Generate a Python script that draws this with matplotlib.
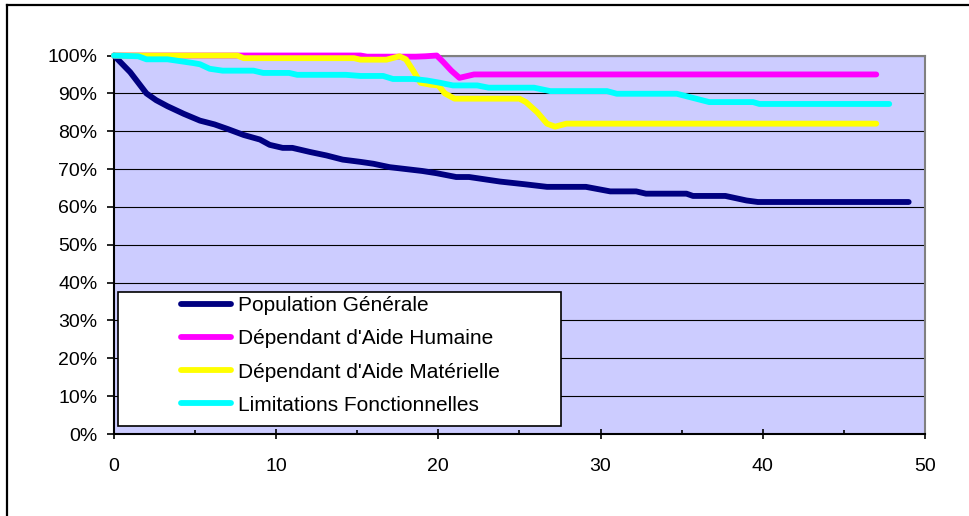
import matplotlib.pyplot as plt
from matplotlib.lines import Line2D
from matplotlib.patches import Rectangle
from matplotlib.ticker import MultipleLocator, PercentFormatter

plt.rcParams['font.family'] = ['Liberation Sans', 'DejaVu Sans']

# survival curves (x in years, y in %)
pop_x = [0, 1, 2, 2.6, 3.3, 4.3, 5.3, 6.2, 7.0, 8.0, 9.0, 9.6, 10.4, 11.0, 12.1, 13.1, 14.1,
         15.2, 16.0, 17.0, 18.0, 19.0, 19.9, 21.1, 21.9, 23.8, 25.3, 26.7, 29.1, 30.6, 32.2,
         32.8, 35.3, 35.7, 37.7, 39.0, 39.7, 49]
pop_y = [100, 95.6, 90, 88.2, 86.6, 84.6, 82.8, 81.8, 80.6, 79, 77.8, 76.4, 75.6, 75.6, 74.5,
         73.6, 72.5, 71.9, 71.4, 70.5, 70, 69.5, 68.9, 67.9, 67.9, 66.7, 66, 65.3, 65.3, 64.1,
         64.1, 63.5, 63.5, 62.9, 62.9, 61.7, 61.3, 61.3]

hum_x = [0, 15.2, 15.6, 18.6, 19.2, 19.9, 20.3, 20.8, 21.3, 21.8, 22.2, 47]
hum_y = [100, 100, 99.7, 99.7, 99.8, 100, 98.3, 96, 94.1, 94.6, 95, 95]

mat_x = [0, 7.6, 8.0, 14.8, 15.2, 16.8, 17.6, 18.0, 18.45, 18.9, 19.5, 20.0, 20.4, 21.0,
         25.0, 25.4, 26.1, 26.7, 27.2, 27.9, 47]
mat_y = [100, 100, 99.3, 99.3, 98.9, 98.9, 99.8, 99, 96, 92.8, 92.3, 92.1, 90, 88.6,
         88.6, 87.7, 85, 82, 81.2, 82, 82]

lim_x = [0, 1.5, 2.0, 3.3, 4.1, 4.9, 5.3, 5.9, 6.7, 8.6, 9.2, 10.8, 11.3, 14.3, 15.2, 16.6,
         17.2, 18.5, 19.3, 20.1, 20.9, 22.4, 23.1, 25.9, 26.9, 30.4, 31.0, 34.7, 36.7, 39.4,
         39.8, 47.8]
lim_y = [100, 99.8, 99.0, 99.0, 98.5, 98.0, 97.7, 96.5, 96.0, 96.0, 95.4, 95.4, 94.9, 94.9,
         94.6, 94.6, 93.8, 93.8, 93.4, 92.8, 92.1, 92.1, 91.5, 91.5, 90.6, 90.6, 89.9, 89.9,
         87.7, 87.7, 87.2, 87.2]

labels = ["Population Générale", "Dépendant d'Aide Humaine",
          "Dépendant d'Aide Matérielle", "Limitations Fonctionnelles"]
colors = ["#000080", "#FF00FF", "#FFFF00", "#00FFFF"]

fig = plt.figure(figsize=(9.7, 5.16), dpi=100)
ax = fig.add_axes([0.1175, 0.1589, 0.836, 0.7335])
ax.set_facecolor("#CCCCFF")

series = [(pop_x, pop_y), (hum_x, hum_y), (mat_x, mat_y), (lim_x, lim_y)]
handles = []
for (xs, ys), c, lab in zip(series, colors, labels):
    h, = ax.plot(xs, ys, color=c, lw=4.2, solid_capstyle='round', solid_joinstyle='round',
                 clip_on=False, label=lab, zorder=3)
    handles.append(h)

ax.set_xlim(0, 50)
ax.set_ylim(0, 100)
ax.xaxis.set_major_locator(MultipleLocator(10))
ax.xaxis.set_minor_locator(MultipleLocator(5))
ax.yaxis.set_major_locator(MultipleLocator(10))
ax.yaxis.set_major_formatter(PercentFormatter(xmax=100, decimals=0))
ax.yaxis.grid(True, color="black", lw=0.8, zorder=1)
ax.set_axisbelow(True)

ax.tick_params(axis='x', which='major', direction='inout', length=6.5, width=1.2,
               labelsize=14, pad=14)
ax.tick_params(axis='x', which='minor', direction='in', length=3, width=1.2)
ax.tick_params(axis='y', which='major', direction='out', length=5, width=1.2,
               labelsize=14, pad=7)

for s in ['left', 'bottom']:
    ax.spines[s].set_color("black")
    ax.spines[s].set_linewidth(1.5)
for s in ['top', 'right']:
    ax.spines[s].set_color("#808080")
    ax.spines[s].set_linewidth(1.5)

# legend box drawn in axes coords, entries placed inside it
ax.add_patch(Rectangle((0.005, 0.021), 0.546, 0.354, transform=ax.transAxes,
                       facecolor="white", edgecolor="black", lw=1.2, zorder=5))
leg = ax.legend(handles=handles, loc='upper left', bbox_to_anchor=(0.083, 0.364),
                frameon=False, fontsize=15, handlelength=2.4, handletextpad=0.3,
                labelspacing=0.68, borderpad=0, borderaxespad=0)
leg.set_zorder(6)

# outer frame (only top and left edges visible in the reference)
fig.add_artist(Line2D([0.0072, 0.0072], [0, 0.9903], color="black", lw=1.6,
                      transform=fig.transFigure))
fig.add_artist(Line2D([0.0072, 1], [0.9903, 0.9903], color="black", lw=1.6,
                      transform=fig.transFigure))

fig.savefig("out.png", dpi=100)
